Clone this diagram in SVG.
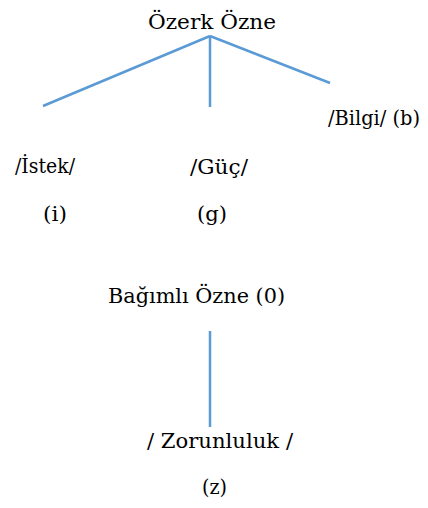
<svg xmlns="http://www.w3.org/2000/svg" width="428" height="508" viewBox="0 0 428 508">
<style>
text{font-family:"DejaVu Serif","Liberation Serif",serif;font-size:20px;fill:#000}
.c{stroke:#5B9BD5;stroke-width:2.5;fill:none}
</style>
<rect width="428" height="508" fill="#fff"/>
<g id="connectors">
<line class="c" x1="210" y1="36" x2="43" y2="106"/>
<line class="c" x1="210" y1="36" x2="210" y2="107"/>
<line class="c" x1="210" y1="36" x2="330" y2="83"/>
<line class="c" x1="210" y1="331" x2="210" y2="427"/>
</g>
<g id="ozerk"><text x="148" y="29" textLength="128" lengthAdjust="spacingAndGlyphs">Özerk Özne</text></g>
<g id="bilgi"><text x="328" y="125" textLength="92" lengthAdjust="spacingAndGlyphs">/Bilgi/ (b)</text></g>
<g id="istek"><text x="15" y="173" textLength="60" lengthAdjust="spacingAndGlyphs">/İstek/</text><text x="43" y="221" textLength="24" lengthAdjust="spacingAndGlyphs">(i)</text></g>
<g id="guc"><text x="190" y="174" textLength="58" lengthAdjust="spacingAndGlyphs">/Güç/</text><text x="197" y="221" textLength="30" lengthAdjust="spacingAndGlyphs">(g)</text></g>
<g id="bagimli"><text x="108" y="303" textLength="177" lengthAdjust="spacingAndGlyphs">Bağımlı Özne (0)</text></g>
<g id="zorunluluk"><text x="147" y="448" textLength="146" lengthAdjust="spacingAndGlyphs">/ Zorunluluk /</text><text x="202" y="494" textLength="25" lengthAdjust="spacingAndGlyphs">(z)</text></g>
</svg>
